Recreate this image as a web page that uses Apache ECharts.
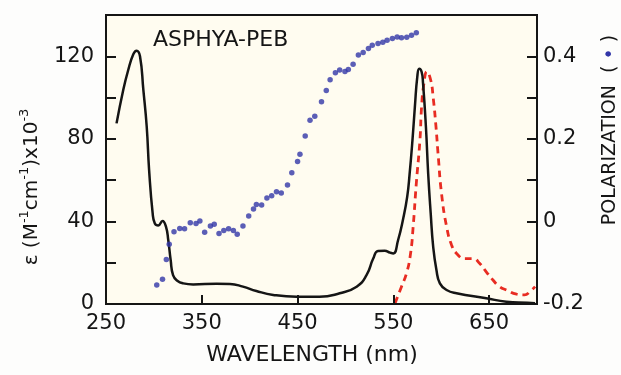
<!DOCTYPE html>
<html>
<head>
<meta charset="utf-8">
<script src="https://cdn.jsdelivr.net/npm/echarts@6/dist/echarts.min.js"></script>
<style>
html,body{margin:0;padding:0;background:#fdfdfc;}
#chart{width:621px;height:375px;}
</style>
</head>
<body>
<div id="chart"></div>
<script>
// Absorption (black solid, left axis)
var absWl  = [261, 268, 273, 278.5, 282, 285.5, 289, 292.5, 295, 298.7, 301, 304.6, 309, 312.6, 315, 317.5, 320, 324.4, 330.7, 341, 365.5, 379.4, 393, 407, 424.6, 449, 473, 494, 511.7, 522, 529, 534, 541, 546.5, 550, 555, 560, 564.5, 567, 570, 572.5, 575, 577, 579.5, 581, 584, 586.4, 589, 591.6, 595, 598.6, 605.6, 616, 647, 668, 690, 698];
var absVal = [87.5, 103.7, 113, 121, 122.7, 120, 103.7, 86, 65, 44, 39, 38, 40.2, 37.5, 31, 21.3, 14, 11.3, 10, 9.5, 9.8, 9.7, 8.4, 6.3, 4.4, 3.5, 3.5, 5.2, 8.4, 14, 22, 25.7, 25.8, 24.9, 24.5, 31, 40.7, 52, 63, 79.5, 95.6, 110, 114, 112.5, 107, 86, 63, 44, 27.8, 16.5, 10, 6.8, 5.2, 2.8, 1.1, 0.6, 0.4];
// Emission (red dashed, left axis scale)
var emWl  = [551.7, 558.5, 563.8, 568, 570.7, 574, 577.8, 579.5, 582, 585, 589, 591.6, 594.5, 597, 600.3, 605.6, 610.8, 616, 624.7, 633.4, 640, 647, 654, 661, 668, 678.7, 687, 692.6, 698];
var emVal = [0.3, 8.4, 14.9, 24.5, 37.5, 58.5, 79.5, 95.6, 107, 112.6, 108.5, 100, 86, 71, 53.6, 37.5, 28.6, 24.5, 22, 22, 19.7, 15.6, 11.6, 8.4, 6.8, 4.8, 4.4, 6, 8.4];
// Polarization (blue dots, right axis)
var polWl  = [303, 309, 313, 316, 321, 327, 332, 338, 344, 348, 353, 359, 363, 368, 373, 378, 383, 387, 393, 399, 404, 407, 412.5, 418, 423, 428, 433, 439.5, 444, 450, 452.5, 458, 463, 468, 475, 480, 484, 489.5, 494, 499.5, 503, 508, 513.5, 518.5, 524, 528, 534, 539, 543.5, 549, 554, 558.5, 564, 569, 574];
var polVal = [-0.154, -0.140, -0.092, -0.055, -0.025, -0.017, -0.018, -0.003, -0.005, 0.001, -0.026, -0.011, -0.007, -0.029, -0.022, -0.018, -0.022, -0.031, -0.011, 0.013, 0.030, 0.041, 0.040, 0.057, 0.062, 0.072, 0.069, 0.088, 0.118, 0.145, 0.163, 0.207, 0.245, 0.255, 0.290, 0.317, 0.343, 0.360, 0.367, 0.363, 0.368, 0.381, 0.403, 0.409, 0.419, 0.427, 0.431, 0.434, 0.439, 0.443, 0.447, 0.445, 0.446, 0.451, 0.457];
// Tick labels
var xTicks = [250, 350, 450, 550, 650];
var leftTicks = [0, 40, 80, 120];
var rightTicks = [-0.2, 0, 0.2, 0.4];

function zip(a, b) { return a.map(function (v, i) { return [v, b[i]]; }); }
function near(list, v) { for (var i = 0; i < list.length; i++) { if (Math.abs(list[i] - v) < 1e-6) return true; } return false; }

var FONT = 'DejaVu Sans';
var INK = '#151515';
var chart = echarts.init(document.getElementById('chart'), null, {renderer: 'canvas'});
chart.setOption({
  backgroundColor: '#fdfdfc',
  animation: false,
  grid: {left: 106, right: 84, top: 15, bottom: 71, show: true, backgroundColor: '#fffcf0', borderColor: INK, borderWidth: 2, z: 0},
  xAxis: {
    type: 'value', min: 250, max: 700, interval: 100, z: 10,
    axisLine: {show: true, lineStyle: {color: INK, width: 2}},
    axisTick: {show: true, inside: true, length: 9, lineStyle: {color: INK, width: 2}},
    splitLine: {show: false},
    axisLabel: {fontFamily: FONT, fontSize: 21, color: INK, margin: 9,
      formatter: function (v) { return near(xTicks, v) ? String(v) : ''; }}
  },
  yAxis: [{
    type: 'value', min: 0, max: 140, interval: 20, position: 'left', z: 10,
    axisLine: {show: true, lineStyle: {color: INK, width: 2}},
    axisTick: {show: true, inside: true, length: 10, lineStyle: {color: INK, width: 2}},
    splitLine: {show: false},
    axisLabel: {fontFamily: FONT, fontSize: 21, color: INK, margin: 12,
      formatter: function (v) { return near(leftTicks, v) ? String(v) : ''; }}
  }, {
    type: 'value', min: -0.2, max: 0.5, interval: 0.1, position: 'right', z: 10,
    axisLine: {show: true, lineStyle: {color: INK, width: 2}},
    axisTick: {show: true, inside: true, length: 10, lineStyle: {color: INK, width: 2}},
    splitLine: {show: false},
    axisLabel: {fontFamily: FONT, fontSize: 21, color: INK, margin: 6,
      formatter: function (v) {
        for (var i = 0; i < rightTicks.length; i++) { if (Math.abs(rightTicks[i] - v) < 1e-6) return String(rightTicks[i]); }
        return '';
      }}
  }],
  series: [{
    type: 'line', name: 'absorption', yAxisIndex: 0, data: zip(absWl, absVal),
    showSymbol: false, smooth: 0.5,
    lineStyle: {color: INK, width: 2.5}, z: 3
  }, {
    type: 'line', name: 'emission', yAxisIndex: 0, data: zip(emWl, emVal),
    showSymbol: false, smooth: 0.5,
    lineStyle: {color: '#e82c22', width: 2.8, type: [7, 5]}, z: 2
  }, {
    type: 'scatter', name: 'polarization', yAxisIndex: 1, data: zip(polWl, polVal),
    symbol: 'circle', symbolSize: 5.5, itemStyle: {color: '#3236a8'}, z: 4
  }],
  graphic: [{
    type: 'text', left: 153, top: 29, z: 10,
    style: {text: 'ASPHYA-PEB', fontFamily: FONT, fontSize: 22, fill: INK}
  }, {
    type: 'text', x: 312, y: 355, z: 10,
    style: {text: 'WAVELENGTH (nm)', fontFamily: FONT, fontSize: 22, fill: INK, align: 'center', verticalAlign: 'middle'}
  }, {
    type: 'text', x: 30, y: 187, rotation: Math.PI / 2, z: 10,
    style: {
      text: '{n|ε (M}{s|-1}{n|cm}{s|-1}{n|)x10}{s|-3}',
      align: 'center', verticalAlign: 'middle', fill: INK,
      rich: {
        n: {fontFamily: FONT, fontSize: 20, fill: INK, lineHeight: 24, verticalAlign: 'bottom'},
        s: {fontFamily: FONT, fontSize: 13, fill: INK, lineHeight: 24, verticalAlign: 'top', padding: [0, 0, 10, 0]}
      }
    }
  }, {
    type: 'text', x: 610, y: 130, rotation: Math.PI / 2, z: 10,
    style: {
      text: '{n|POLARIZATION  (}{d|•}{n|)}',
      align: 'center', verticalAlign: 'middle',
      rich: {
        n: {fontFamily: FONT, fontSize: 19, fill: INK},
        d: {fontFamily: FONT, fontSize: 19, fill: '#3236a8', padding: [0, 6, 0, 6]}
      }
    }
  }]
});
</script>
</body>
</html>
